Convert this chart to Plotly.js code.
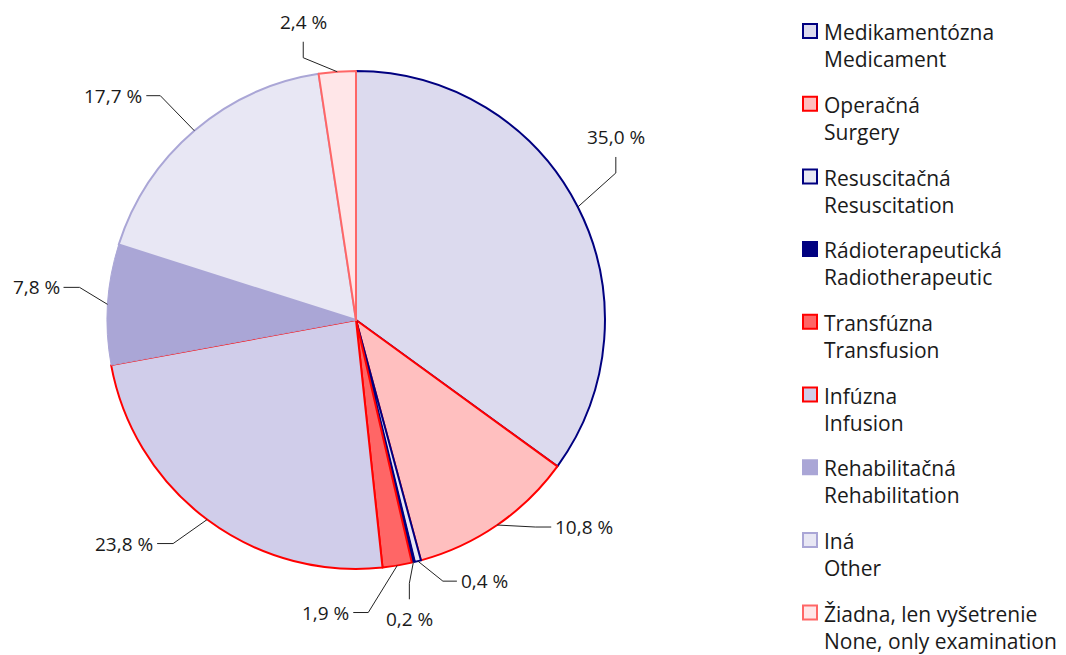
<!DOCTYPE html>
<html><head><meta charset="utf-8">
<script src="https://cdn.plot.ly/plotly-3.0.1.min.js"></script>
<style>html,body{margin:0;padding:0;background:#fff}#chart{width:1066px;height:655px}</style>
</head><body><div id="chart"></div>
<script>
// ---- data ----
const labelsSk = ["Medikamentózna","Operačná","Resuscitačná","Rádioterapeutická","Transfúzna","Infúzna","Rehabilitačná","Iná","Žiadna, len vyšetrenie"];
const labelsEn = ["Medicament","Surgery","Resuscitation","Radiotherapeutic","Transfusion","Infusion","Rehabilitation","Other","None, only examination"];
const values = [35.0,10.8,0.4,0.2,1.9,23.8,7.8,17.7,2.4];

// ---- styles ----
const fillColors = ["#dcdaee","#ffbfbf","#e8e8f4","#000080","#ff6666","#d0cdea","#aaa6d6","#e8e7f4","#ffe6e8"];
const lineColors = ["#000080","#ff0000","#000080","#000080","#ff0000","#ff0000","#aaa6d6","#aaa6d6","#ff6666"];
const lineWidths = [2,2,2,1,2,2,1,2,2];

// leader line placement (pixel offsets from slice edge point): [dx1,dy1,dx2,dy2, xanchor, yanchor]
const leaders = [
  [38,-34, 0,-16, 'center','middle'],
  [38,  2,16,  0, 'left','middle'],
  [25, 20,14,  0, 'left','middle'],
  [-4, 21, 0, 16, 'center','middle'],
  [-29,47,-15, 0, 'right','middle'],
  [-34,24,-16, 0, 'right','middle'],
  [-28,-17,-16,0, 'right','middle'],
  [-34,-35,-14,0, 'right','middle'],
  [-34,-14, 0,-16,'center','middle']
];

const W = 1066, H = 655;
const domX = [0.1004, 0.5675];
const domY = [0.1313, 0.8916];
const font = "'Open Sans', sans-serif";
const txtColor = "#1a1a1a";
const labelFontSize = 19;
const legendFontSize = 21;
const legend = {x:823, y0:31, step:72.7, sw:14, swX:810};

const cx = W*(domX[0]+domX[1])/2;
const cy = H*(1-(domY[0]+domY[1])/2);
const R = Math.min(W*(domX[1]-domX[0]), H*(domY[1]-domY[0]))/2;
const total = values.reduce((a,b)=>a+b,0);

const px = x => x/W, py = y => 1 - y/H;
const shapes = [], annotations = [];
let cum = 0;
values.forEach((v,i)=>{
  const mid = (cum + v/2)/total*2*Math.PI; cum += v;
  const ex = cx + R*Math.sin(mid), ey = cy - R*Math.cos(mid);
  const L = leaders[i];
  const bx = ex+L[0], by = ey+L[1];
  const tx = bx+L[2], ty = by+L[3];
  shapes.push({type:'path', xref:'paper', yref:'paper',
    path:`M${px(ex)},${py(ey)} L${px(bx)},${py(by)} L${px(tx)},${py(ty)}`,
    line:{color:'#222', width:1}});
  let ax = tx, ay = ty;
  if (L[4]==='left') ax += 3;
  if (L[4]==='right') ax -= 3;
  if (L[3] < 0) ay -= 20;
  if (L[3] > 0) ay += 20;
  annotations.push({xref:'paper', yref:'paper', x:px(ax), y:py(ay), showarrow:false,
    xanchor:L[4], yanchor:L[5], text: v.toFixed(1).replace('.',',')+' %',
    font:{family:font, size:labelFontSize, color:txtColor}, borderpad:0});
});

// legend drawn from the same label / style arrays
const lineGap = 1.3*legendFontSize;
labelsSk.forEach((s,i)=>{
  const yc = legend.y0 + i*legend.step;
  const h = legend.sw/2;
  shapes.push({type:'rect', xref:'paper', yref:'paper',
    x0:px(legend.swX-h), x1:px(legend.swX+h), y0:py(yc+h), y1:py(yc-h),
    fillcolor:fillColors[i], line:{color:lineColors[i], width:2}});
  annotations.push({xref:'paper', yref:'paper', x:px(legend.x), y:py(yc + lineGap/2 + 1),
    xanchor:'left', yanchor:'middle', align:'left', showarrow:false,
    text:s+'<br>'+labelsEn[i], borderpad:0,
    font:{family:font, size:legendFontSize, color:txtColor}});
});

const trace = {
  type:'pie', labels:labelsSk, values:values, sort:false, direction:'clockwise', rotation:0,
  textinfo:'none', hoverinfo:'none',
  marker:{colors:fillColors, line:{color:lineColors, width:lineWidths}},
  domain:{x:domX, y:domY}
};

const layout = {
  width:W, height:H, margin:{l:0,r:0,t:0,b:0},
  paper_bgcolor:'#fff', plot_bgcolor:'#fff',
  showlegend:false,
  shapes:shapes, annotations:annotations
};
Plotly.newPlot('chart',[trace],layout,{displayModeBar:false, staticPlot:true});
</script></body></html>
